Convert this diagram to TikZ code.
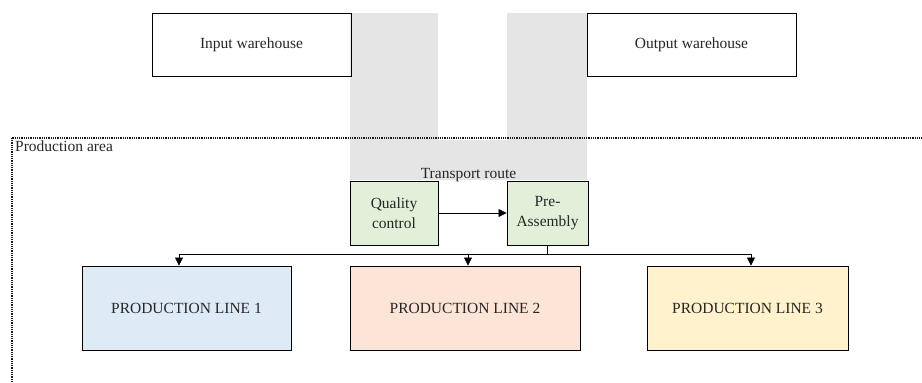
\documentclass[tikz,border=0pt]{standalone}
\usepackage{fontspec}
\setmainfont{Liberation Serif}
\usetikzlibrary{arrows.meta}
\definecolor{routegray}{HTML}{E5E5E5}
\definecolor{qcgreen}{HTML}{E2F0D9}
\definecolor{lineblue}{HTML}{DEEBF7}
\definecolor{linerose}{HTML}{FCE4D6}
\definecolor{lineyellow}{HTML}{FFF2CC}
\tikzset{
  txt/.style={font=\fontsize{15.5}{19.5}\selectfont, text=black!85},
  box/.style={draw=black, line width=0.9pt, inner sep=0pt, txt, align=center},
  flow/.style={line width=0.7pt, -{Triangle[width=8pt,length=8pt]}},
  plain/.style={line width=0.7pt},
  areaborder/.style={draw=black!90, line width=1.4pt, dash pattern=on 0.9pt off 0.9pt}
}
\begin{document}
\begin{tikzpicture}[x=1pt,y=-1pt]
\clip (0,0) rectangle (922,383);
\fill[white] (0,0) rectangle (922,383);

% transport route: two vertical lanes joined by a band
\fill[routegray] (350,13) rectangle (438,180);
\fill[routegray] (507,13) rectangle (587,180);
\fill[routegray] (350,140) rectangle (587,180);
\node[txt, anchor=base] (tr) at (468.5,178) {Transport route};

% production area
\draw[areaborder] (12,138) rectangle (940,400);
\node[txt, anchor=north west, inner sep=0pt] (area) at (15,141) {Production area};

% warehouses
\node[box, minimum width=199, minimum height=63] (inwh) at (251.5,44.5) {Input warehouse};
\node[box, minimum width=209, minimum height=63] (outwh) at (691.5,44.5) {Output warehouse};

% stations on the transport route
\node[box, fill=qcgreen, minimum width=88, minimum height=64] (qc) at (394,213) {Quality\\control};
\node[box, fill=qcgreen, minimum width=81, minimum height=64] (pa) at (547.5,213) {Pre-\\Assembly};

% production lines
\node[box, fill=lineblue, minimum width=209, minimum height=84] (pl1) at (186.5,308) {PRODUCTION LINE 1};
\node[box, fill=linerose, minimum width=230, minimum height=84] (pl2) at (465,308) {PRODUCTION LINE 2};
\node[box, fill=lineyellow, minimum width=201, minimum height=84] (pl3) at (747.5,308) {PRODUCTION LINE 3};

% connectors
\draw[flow] (qc.east) -- (pa.west);
\coordinate (b1) at (179,254);
\coordinate (b2) at (468,254);
\coordinate (b3) at (751,254);
\draw[plain] (pa.south) -- (pa.south |- b1);
\draw[plain] (b1) -- (b3);
\draw[flow] (b1) -- (b1 |- pl1.north);
\draw[flow] (b2) -- (b2 |- pl2.north);
\draw[flow] (b3) -- (b3 |- pl3.north);
\end{tikzpicture}
\end{document}
